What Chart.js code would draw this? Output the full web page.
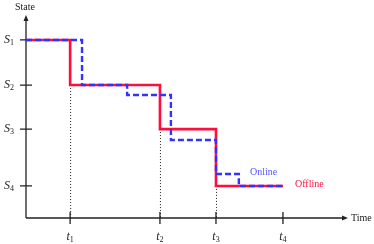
<!DOCTYPE html>
<html>
<head>
<meta charset="utf-8">
<script src="https://cdn.jsdelivr.net/npm/chart.js@4"></script>
<style>
  html, body { margin: 0; padding: 0; background: #fff; }
  #wrap { width: 374px; height: 244px; }
</style>
</head>
<body>
<div id="wrap"><canvas id="chart"></canvas></div>
<script>
// states on the vertical axis
const stateNames = ['1', '2', '3', '4'];
const stateValues = [8.77, 6.55, 4.38, 1.58];
// time marks on the horizontal axis
const timeNames = ['1', '2', '3', '4'];
const timeValues = [1.37, 4.16, 5.90, 7.98];

// offline policy
const offlineX = [0, 1.37, 4.16, 5.90, 7.98];
const offlineY = [8.77, 6.55, 4.38, 1.58, 1.58];
// online policy
const onlineX = [0, 1.74, 3.14, 4.50, 5.90, 6.61, 7.98];
const onlineY = [8.77, 6.55, 6.06, 3.84, 2.17, 1.58, 1.58];

const RED = '#ff0d3d';
const BLUE = '#3333ff';
const SERIF = '"Liberation Serif", "DejaVu Serif", serif';

function pts(xs, ys) {
    return xs.map((x, i) => ({ x: x, y: ys[i] }));
}

const decor = {
    id: 'decor',
    beforeDatasetsDraw(chart) {
        const ctx = chart.ctx;
        const xs = chart.scales.x;
        const ys = chart.scales.y;
        const x0 = xs.getPixelForValue(0);
        const y0 = ys.getPixelForValue(0);
        const xEnd = xs.getPixelForValue(10);
        const yEnd = ys.getPixelForValue(10);
        ctx.save();

        // dotted drop lines
        ctx.strokeStyle = '#222';
        ctx.lineWidth = 1;
        ctx.setLineDash([1, 2]);
        for (let i = 0; i < 3; i++) {
            const px = xs.getPixelForValue(timeValues[i]);
            ctx.beginPath();
            ctx.moveTo(px + 0.5, ys.getPixelForValue(stateValues[i + 1]));
            ctx.lineTo(px + 0.5, y0);
            ctx.stroke();
        }
        ctx.setLineDash([]);

        // axes
        ctx.strokeStyle = '#222';
        ctx.fillStyle = '#222';
        ctx.lineWidth = 1.3;
        ctx.beginPath();
        ctx.moveTo(x0, y0);
        ctx.lineTo(xEnd - 4, y0);
        ctx.moveTo(x0, y0);
        ctx.lineTo(x0, yEnd + 4);
        ctx.stroke();
        ctx.beginPath();
        ctx.moveTo(xEnd, y0);
        ctx.lineTo(xEnd - 6, y0 - 2.5);
        ctx.lineTo(xEnd - 6, y0 + 2.5);
        ctx.closePath();
        ctx.moveTo(x0, yEnd);
        ctx.lineTo(x0 - 2.5, yEnd + 6);
        ctx.lineTo(x0 + 2.5, yEnd + 6);
        ctx.closePath();
        ctx.fill();

        // ticks
        ctx.beginPath();
        stateValues.forEach(v => {
            const py = ys.getPixelForValue(v);
            ctx.moveTo(x0 - 6, py);
            ctx.lineTo(x0 + 6, py);
        });
        timeValues.forEach(v => {
            const px = xs.getPixelForValue(v);
            ctx.moveTo(px, y0 - 6);
            ctx.lineTo(px, y0 + 6);
        });
        ctx.stroke();

        // labels
        ctx.fillStyle = '#222';
        ctx.textBaseline = 'middle';
        ctx.font = '10px ' + SERIF;
        ctx.textAlign = 'left';
        ctx.fillText('State', 15, 7);
        ctx.fillText('Time', xEnd + 3, y0);

        function sub(letter, idx, cx, cy) {
            ctx.font = 'italic 12px ' + SERIF;
            const w1 = ctx.measureText(letter).width;
            ctx.font = '8px ' + SERIF;
            const w2 = ctx.measureText(idx).width;
            const left = cx - (w1 + w2) / 2;
            ctx.textAlign = 'left';
            ctx.font = 'italic 12px ' + SERIF;
            ctx.fillText(letter, left, cy);
            ctx.font = '8px ' + SERIF;
            ctx.fillText(idx, left + w1, cy + 3);
        }
        stateNames.forEach((n, i) => sub('S', n, 9, ys.getPixelForValue(stateValues[i])));
        timeNames.forEach((n, i) => sub('t', n, xs.getPixelForValue(timeValues[i]), y0 + 19));

        const xt4 = xs.getPixelForValue(timeValues[3]);
        ctx.font = '10px ' + SERIF;
        ctx.textAlign = 'left';
        ctx.fillStyle = '#5555ff';
        ctx.fillText('Online', xt4 - 33, ys.getPixelForValue(stateValues[3]) - 14);
        ctx.fillStyle = RED;
        ctx.fillText('Offline', xt4 + 12, ys.getPixelForValue(stateValues[3]) - 2);
        ctx.restore();
    }
};

new Chart(document.getElementById('chart'), {
    type: 'line',
    data: {
        datasets: [{
            label: 'Offline',
            data: pts(offlineX, offlineY),
            borderColor: RED,
            borderWidth: 2.6,
            stepped: true,
            pointRadius: 0,
            fill: false,
            order: 2
        }, {
            label: 'Online',
            data: pts(onlineX, onlineY),
            borderColor: BLUE,
            borderWidth: 2.4,
            borderDash: [6, 3],
            stepped: true,
            pointRadius: 0,
            fill: false,
            order: 1
        }]
    },
    options: {
        responsive: true,
        maintainAspectRatio: false,
        animation: false,
        clip: false,
        layout: { padding: { left: 26, right: 26, top: 15, bottom: 26 } },
        plugins: {
            legend: { display: false },
            tooltip: { enabled: false }
        },
        scales: {
            x: { type: 'linear', min: 0, max: 10, display: false },
            y: { type: 'linear', min: 0, max: 10, display: false }
        }
    },
    plugins: [decor]
});
</script>
</body>
</html>
